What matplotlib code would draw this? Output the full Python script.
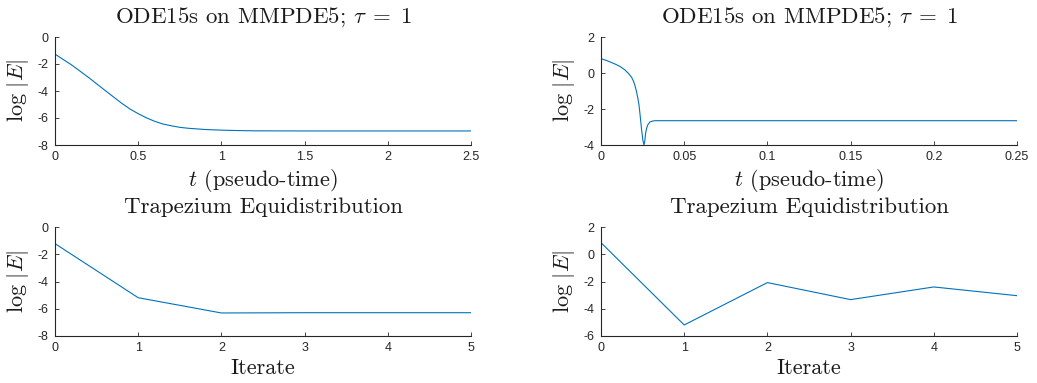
import matplotlib
matplotlib.use("Agg")
import matplotlib.pyplot as plt

plt.rcParams['mathtext.fontset'] = 'cm'
plt.rcParams['axes.unicode_minus'] = False
plt.rcParams['font.family'] = ['Liberation Sans', 'DejaVu Sans']

# ODE15s run, tau = 1, left case (log|E| against pseudo-time)
t_left = [0, 0.1, 0.2, 0.3, 0.4, 0.45, 0.5, 0.55, 0.6, 0.65, 0.7, 0.75, 0.8,
          0.9, 1.0, 1.1, 1.2, 1.5, 2.0, 2.5]
E_left = [-1.27, -2.07, -2.98, -3.95, -4.9, -5.33, -5.68, -5.99, -6.25, -6.45,
          -6.58, -6.69, -6.76, -6.85, -6.9, -6.93, -6.95, -6.96, -6.96, -6.96]

# ODE15s run, tau = 1, right case
t_right = [0, 0.004, 0.0084, 0.0115, 0.0144, 0.0165, 0.0184, 0.0195, 0.0204, 0.0212,
           0.022, 0.0228, 0.0234, 0.0244, 0.0252, 0.0258, 0.0263, 0.0268, 0.0274,
           0.028, 0.0294, 0.031, 0.0325, 0.04, 0.1, 0.25]
E_right = [0.8, 0.67, 0.5, 0.36, 0.17, -0.02, -0.24, -0.45, -0.69, -0.98, -1.33,
           -1.75, -2.25, -3.16, -3.75, -4.0, -3.8, -3.35, -3.08, -2.9, -2.72, -2.67,
           -2.65, -2.65, -2.65, -2.65]

# trapezium equidistribution iterates
iters = [0, 1, 2, 3, 4, 5]
E_trap_left = [-1.22, -5.19, -6.31, -6.29, -6.29, -6.29]
E_trap_right = [0.85, -5.19, -2.08, -3.33, -2.40, -3.04]

title_ode = r'ODE15s on MMPDE5; $\tau\;=\;1$'
title_trap = 'Trapezium Equidistribution'
xlab_time = r'$t$ (pseudo-time)'
xlab_iter = 'Iterate'
ylab = r'$\log\,|E|$'

line_col = '#0072BD'
ax_col = '#262626'
txt_col = '#1a1a1a'

fig = plt.figure(figsize=(10.37, 3.83), dpi=100)

W, H = 1037.0, 383.0
boxes = [(55, 37, 471, 145), (601, 37, 1017, 145),
         (55, 227, 471, 336), (601, 227, 1017, 336)]

panels = [
    (t_left, E_left, (0, 2.5), [0, 0.5, 1, 1.5, 2, 2.5], (-8, 0), [-8, -6, -4, -2, 0],
     title_ode, xlab_time),
    (t_right, E_right, (0, 0.25), [0, 0.05, 0.1, 0.15, 0.2, 0.25], (-4, 2), [-4, -2, 0, 2],
     title_ode, xlab_time),
    (iters, E_trap_left, (0, 5), iters, (-8, 0), [-8, -6, -4, -2, 0],
     title_trap, xlab_iter),
    (iters, E_trap_right, (0, 5), iters, (-6, 2), [-6, -4, -2, 0, 2],
     title_trap, xlab_iter),
]

for (x0, y0, x1, y1), (x, y, xl, xt, yl, yt, ttl, xlab) in zip(boxes, panels):
    ax = fig.add_axes([x0 / W, 1 - y1 / H, (x1 - x0) / W, (y1 - y0) / H])
    ax.plot(x, y, color=line_col, lw=0.8)
    ax.set_xlim(*xl)
    ax.set_ylim(*yl)
    ax.set_xticks(xt)
    ax.set_yticks(yt)
    ax.set_xticklabels([f'{v:g}' for v in xt])
    ax.set_yticklabels([f'{v:g}' for v in yt])
    for s in ('top', 'right'):
        ax.spines[s].set_visible(False)
    for s in ('left', 'bottom'):
        ax.spines[s].set_color(ax_col)
        ax.spines[s].set_linewidth(0.8)
    ax.tick_params(direction='in', length=3, width=0.6, colors=ax_col,
                   labelsize=9, pad=4.5)
    ax.set_title(ttl, family='cmr10', fontsize=16.5, pad=10, color=txt_col)
    ax.set_xlabel(xlab, family='cmr10', fontsize=16, labelpad=3, color=txt_col)
    ax.set_ylabel(ylab, fontsize=16, labelpad=5, color=txt_col)

fig.savefig('out.png', dpi=100)
